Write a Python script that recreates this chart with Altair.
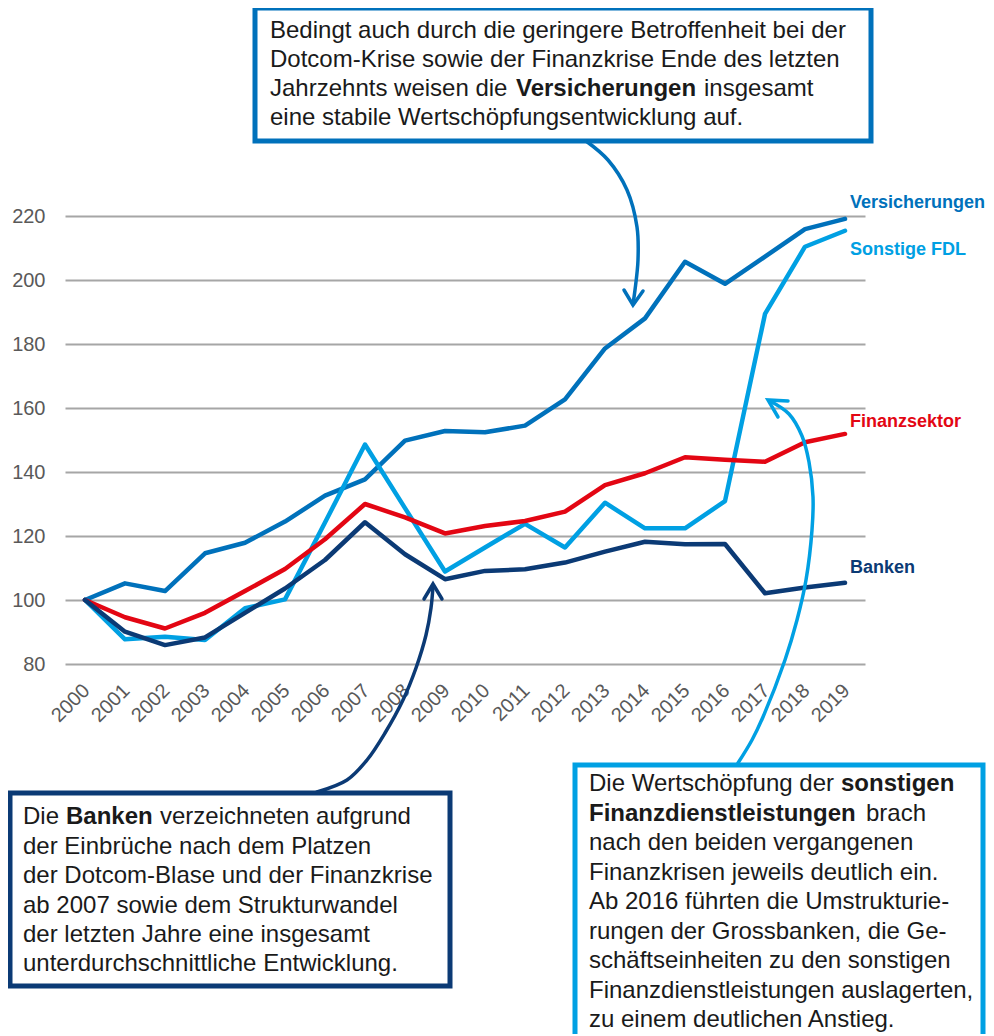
import altair as alt
import pandas as pd

# ---------------- data ----------------
years = list(range(2000, 2020))
series_names = ["Versicherungen", "Sonstige FDL", "Finanzsektor", "Banken"]
series_colors = ["#0071BB", "#00A0E3", "#E30613", "#0B3A75"]

versicherungen = [100, 105.2, 102.8, 114.6, 117.9, 124.5, 132.6, 137.7, 149.8, 152.8,
                  152.4, 154.5, 162.7, 178.6, 188.0, 205.7, 198.8, 207.3, 215.9, 219.1]
sonstige_fdl = [100, 87.7, 88.5, 87.5, 97.4, 100.2, 124.2, 148.6, 128.7, 108.9,
                116.4, 123.8, 116.4, 130.4, 122.4, 122.4, 130.9, 189.4, 210.4, 215.4]
finanzsektor = [100, 94.6, 91.1, 96.0, 102.8, 109.7, 119.0, 130.0, 125.8, 120.8,
                123.1, 124.7, 127.6, 135.9, 139.6, 144.6, 143.8, 143.2, 149.3, 151.9]
banken = [100, 90.1, 85.9, 88.3, 96.0, 103.6, 112.5, 124.3, 114.3, 106.5,
          109.1, 109.6, 111.7, 115.1, 118.2, 117.4, 117.5, 102.1, 103.9, 105.4]

y_ticks = [80, 100, 120, 140, 160, 180, 200, 220]

FONT = "Liberation Sans"
TEXT_COLOR = "#1A1A1A"
GRID_COLOR = "#A6A6A6"
LABEL_COLOR = "#595959"

XD = [1999.5, 2019.5]
YD = [80, 220]
xs = alt.Scale(domain=XD, nice=False, zero=False)
ys = alt.Scale(domain=YD, nice=False, zero=False)
color_scale = alt.Scale(domain=series_names, range=series_colors)

x_axis = alt.Axis(values=years, format="d", labelAngle=-45, grid=False, domain=False,
                  ticks=False, labelPadding=16, labelOffset=-6, labelFontSize=20,
                  labelColor=LABEL_COLOR, labelFont=FONT, labelFlush=False,
                  labelOverlap=False, title=None)
y_axis = alt.Axis(values=y_ticks, grid=True, gridColor=GRID_COLOR, gridWidth=2,
                  domain=False, ticks=False, labelPadding=20, labelFontSize=20,
                  labelColor=LABEL_COLOR, labelFont=FONT, title=None)


def XE(field):
    return alt.X(field, scale=xs, axis=x_axis, title=None)


def YE(field):
    return alt.Y(field, scale=ys, axis=y_axis, title=None)


# page-pixel -> data units (plot area: x 65..865, y 216..664)
def X(px):
    return XD[0] + (px - 65) / 40.0


def Y(py):
    return YD[1] - (py - 216) / 3.2


# ---------------- main lines ----------------
rows = []
for name, vals in zip(series_names, [versicherungen, sonstige_fdl, finanzsektor, banken]):
    for yr, v in zip(years, vals):
        rows.append({"year": yr, "value": v, "series": name})
df = pd.DataFrame(rows)

lines = alt.Chart(df).mark_line(strokeWidth=4.5, strokeCap="round", strokeJoin="round").encode(
    x=XE("year:Q"),
    y=YE("value:Q"),
    color=alt.Color("series:N", scale=color_scale, legend=None),
)

# ---------------- series labels ----------------
lab_df = pd.DataFrame({
    "series": series_names,
    "x": [X(850)] * 4,
    "y": [Y(208), Y(255), Y(427), Y(573)],
})
labels = alt.Chart(lab_df).mark_text(align="left", baseline="alphabetic", fontSize=18,
                                     fontWeight="bold", font=FONT, clip=False).encode(
    x=XE("x:Q"),
    y=YE("y:Q"),
    text="series:N",
    color=alt.Color("series:N", scale=color_scale, legend=None),
)

# ---------------- annotation boxes ----------------
box_df = pd.DataFrame({
    "x": [X(255), X(10), X(575)],
    "x2": [X(871), X(450), X(983)],
    "y": [Y(8), Y(793), Y(765)],
    "y2": [Y(141), Y(986), Y(1080)],
    "c": [series_colors[0], series_colors[3], series_colors[1]],
})
boxes = alt.Chart(box_df).mark_rect(fill="white", strokeWidth=5, clip=False).encode(
    x=XE("x:Q"),
    x2="x2:Q",
    y=YE("y:Q"),
    y2="y2:Q",
    stroke=alt.Stroke("c:N", scale=None),
)

# ---------------- arrows ----------------
arrow_paths = {
    "a1": (series_colors[0], [(586, 141), (608, 160), (627, 190), (637, 227), (638, 260),
                              (635, 290), (633, 304)]),
    "a2": (series_colors[3], [(317, 792), (347, 780), (367, 760), (385, 733), (403, 700),
                              (416, 668), (426, 635), (431, 608), (433, 586)]),
    "a3": (series_colors[1], [(738, 763), (752, 740), (763, 717), (785, 660), (797, 620),
                              (806, 580), (812, 530), (813, 497), (809, 462), (802, 436),
                              (789, 414), (770, 401)]),
}
arrow_heads = {
    "a1": (series_colors[0], [(624, 290), (633, 305), (643, 291)]),
    "a2": (series_colors[3], [(424, 599), (433, 584), (442, 599)]),
    "a3": (series_colors[1], [(788, 401), (768, 400), (778, 417)]),
}


def path_df(d):
    r = []
    for k, (c, pts) in d.items():
        for i, (px, py) in enumerate(pts):
            r.append({"id": k, "c": c, "i": i, "x": X(px), "y": Y(py)})
    return pd.DataFrame(r)


arrows = alt.Chart(path_df(arrow_paths)).mark_line(
    interpolate="catmull-rom", strokeWidth=3.5, strokeCap="round", clip=False).encode(
    x=XE("x:Q"),
    y=YE("y:Q"),
    detail="id:N",
    order="i:Q",
    stroke=alt.Stroke("c:N", scale=None),
)
heads = alt.Chart(path_df(arrow_heads)).mark_line(
    strokeWidth=3.5, strokeCap="round", strokeJoin="miter", clip=False).encode(
    x=XE("x:Q"),
    y=YE("y:Q"),
    detail="id:N",
    order="i:Q",
    stroke=alt.Stroke("c:N", scale=None),
)

# ---------------- annotation texts ----------------
normal_txt = [
    ("Bedingt auch durch die geringere Betroffenheit bei der", 270, 38),
    ("Dotcom-Krise sowie der Finanzkrise Ende des letzten", 270, 67),
    ("Jahrzehnts weisen die", 270, 96),
    ("insgesamt", 704, 96),
    ("eine stabile Wertschöpfungsentwicklung auf.", 270, 125),
    ("Die", 23, 824),
    ("verzeichneten aufgrund", 160, 824),
    ("der Einbrüche nach dem Platzen", 23, 854),
    ("der Dotcom-Blase und der Finanzkrise", 23, 883),
    ("ab 2007 sowie dem Strukturwandel", 23, 913),
    ("der letzten Jahre eine insgesamt", 23, 942),
    ("unterdurchschnittliche Entwicklung.", 23, 971),
    ("Die Wertschöpfung der", 589, 791),
    ("brach", 866, 820.5),
    ("nach den beiden vergangenen", 589, 850),
    ("Finanzkrisen jeweils deutlich ein.", 589, 879.5),
    ("Ab 2016 führten die Umstrukturie-", 589, 909),
    ("rungen der Grossbanken, die Ge-", 589, 938.5),
    ("schäftseinheiten zu den sonstigen", 589, 968),
    ("Finanzdienstleistungen auslagerten,", 589, 997.5),
    ("zu einem deutlichen Anstieg.", 589, 1027),
]
bold_txt = [
    ("Versicherungen", 516, 96),
    ("Banken", 66, 824),
    ("sonstigen", 841, 791),
    ("Finanzdienstleistungen", 589, 820.5),
]


def txt_df(items):
    return pd.DataFrame({"t": [a for a, _, _ in items],
                         "x": [X(b) for _, b, _ in items],
                         "y": [Y(c) for _, _, c in items]})


def txt_layer(items, weight):
    return alt.Chart(txt_df(items)).mark_text(
        align="left", baseline="alphabetic", fontSize=24, fontWeight=weight,
        font=FONT, color=TEXT_COLOR, clip=False).encode(
        x=XE("x:Q"),
        y=YE("y:Q"),
        text="t:N",
    )


chart = alt.layer(
    lines, boxes, arrows, heads, txt_layer(normal_txt, "normal"), txt_layer(bold_txt, "bold"), labels
).properties(
    width=800, height=448,
    autosize=alt.AutoSizeParams(type="none"),
    padding={"left": 57, "top": 208, "right": 121, "bottom": 370},
    background="white",
).configure_view(stroke=None)

chart.save("out.html", embed_options={"renderer": "svg", "actions": False})
